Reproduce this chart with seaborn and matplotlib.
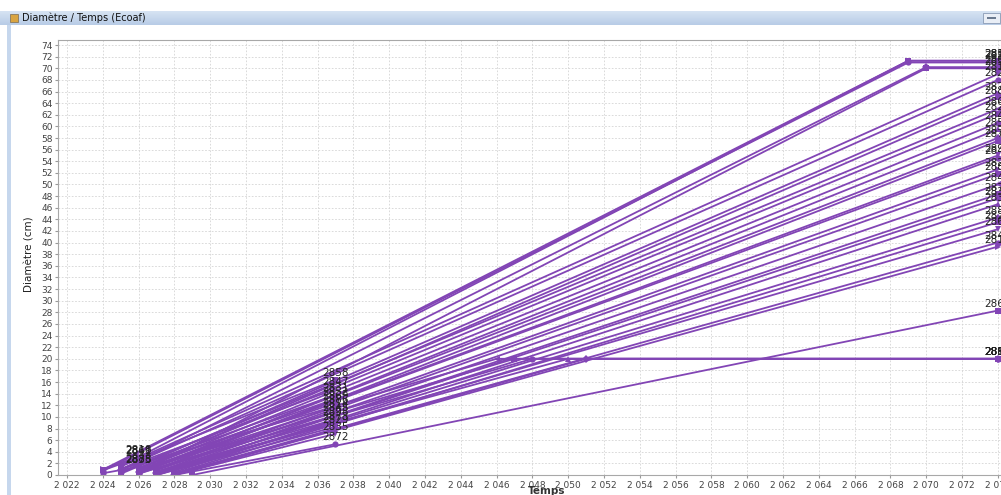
import numpy as np
import pandas as pd
import matplotlib
matplotlib.use("Agg")
import matplotlib.pyplot as plt
from matplotlib.patches import Rectangle
from matplotlib.ticker import MultipleLocator, FuncFormatter
import seaborn as sns

# arbres : identifiant, premier point, dernier point, annee de plafonnement (0 = aucune)
tree_id = [
    # plafond 71 cm
    2859, 2853, 2816, 2896, 2897,
    # jusqu'en 2074
    2815, 2824, 2876, 2883, 2862, 2826, 2848, 2856, 2871, 2877, 2894, 2844,
    2828, 2889, 2841, 2878, 2838, 2837, 2884, 2821, 2867, 2843, 2817, 2865,
    # plafond 20 cm
    2855, 2863, 2880, 2892, 2812,
    # coupes en 2037
    2858, 2847, 2831, 2852, 2869, 2886, 2814, 2845, 2898, 2873, 2829, 2835, 2872,
    # coupes en 2026
    2818, 2849, 2861, 2888, 2833, 2875,
]
first_year = [
    2024, 2024, 2025, 2025, 2026,
    2025, 2025, 2026, 2026, 2025, 2026, 2026, 2027, 2026, 2027, 2027, 2026,
    2027, 2027, 2027, 2028, 2027, 2028, 2028, 2028, 2027, 2028, 2028, 2029,
    2025, 2026, 2026, 2027, 2028,
    2025, 2025, 2025, 2026, 2026, 2026, 2026, 2027, 2027, 2027, 2027, 2028, 2028,
    2024, 2024, 2025, 2025, 2024, 2025,
]
first_diam = [
    0.9, 0.7, 1.5, 0.8, 0.3,
    1.5, 1.0, 1.5, 1.0, 0.5, 1.2, 0.8, 1.5, 0.5, 1.0, 1.5, 0.3,
    0.8, 0.5, 0.3, 1.0, 0.0, 0.5, 0.8, 0.3, 0.0, 0.2, 0.0, 0.0,
    1.0, 0.8, 0.3, 0.5, 0.0,
    1.5, 1.0, 0.5, 1.2, 0.8, 0.5, 0.2, 1.0, 0.6, 0.3, 0.0, 0.0, 0.0,
    1.0, 0.8, 1.5, 0.5, 0.3, 0.2,
]
last_year = [2074] * 34 + [2037] * 13 + [2026] * 6
last_diam = [
    71.3, 71.0, 71.3, 70.2, 70.0,
    69.0, 68.0, 65.7, 65.0, 63.0, 62.2, 60.6, 59.5, 58.0, 57.5, 55.0, 54.6,
    52.6, 51.8, 50.0, 48.3, 47.6, 46.6, 44.3, 43.5, 42.3, 40.0, 39.3, 28.3,
    20.0, 20.0, 20.0, 20.0, 20.0,
    16.4, 14.8, 13.8, 13.1, 12.4, 11.7, 11.0, 10.3, 9.6, 8.9, 8.3, 7.1, 5.3,
    3.2, 3.0, 2.9, 1.6, 1.4, 1.5,
]
cap_year = (
    [2069, 2069, 2069, 2070, 2070]
    + [0] * 24
    + [2046, 2047, 2048, 2050, 2051]
    + [0] * 19
)

purple = "#8245b5"

rows = []
for i, t in enumerate(tree_id):
    rows.append((str(t), first_year[i], first_diam[i]))
    if cap_year[i]:
        rows.append((str(t), cap_year[i], last_diam[i]))
    rows.append((str(t), last_year[i], last_diam[i]))
df = pd.DataFrame(rows, columns=["arbre", "annee", "diametre"])

shapes = ["s", "o", "^", "D", "s", "v", "o", ">", "s", "<"]
markers = [shapes[i % len(shapes)] for i in range(len(tree_id))]

fig = plt.figure(figsize=(10.01, 4.95), dpi=100)
ax = fig.add_axes([58 / 1001, 20 / 495, 945 / 1001, 435 / 495])

sns.lineplot(data=df, x="annee", y="diametre", hue="arbre", style="arbre",
             palette=[purple] * len(tree_id), markers=markers, dashes=False,
             estimator=None, legend=False, linewidth=1.3, markersize=4.5,
             markeredgewidth=0, ax=ax)

for i, t in enumerate(tree_id):
    ax.text(last_year[i], last_diam[i] + 0.3, str(t), ha="center", va="bottom",
            fontsize=7.5, color="#222222")

ax.set_xlim(2021.5, 2074.29)
ax.set_ylim(0, 74.87)
ax.xaxis.set_major_locator(MultipleLocator(2))
ax.yaxis.set_major_locator(MultipleLocator(2))
ax.xaxis.set_major_formatter(FuncFormatter(lambda v, p: f"{int(v):,}".replace(",", " ")))
ax.tick_params(labelsize=6.5, labelcolor="#444444", color="#999999", length=2, pad=2)
ax.grid(True, color="#d4d4d4", linestyle=(0, (2, 2)), linewidth=0.6)
ax.set_axisbelow(True)
for s in ax.spines.values():
    s.set_color("#a8a8a8")
    s.set_linewidth(0.8)
ax.set_xlabel("")
ax.set_ylabel("")

fig.text(547 / 1001, 1 - 491 / 495, "Temps", ha="center", va="center",
         fontsize=7.5, fontweight="bold", color="#333333")
fig.text(29 / 1001, 1 - 254 / 495, "Diamètre (cm)", ha="center", va="center",
         rotation=90, fontsize=7.5, color="#222222")

# barre de titre de la fenetre
bar = fig.add_axes([0, 1 - 25 / 495, 1, 14 / 495])
bar.imshow(np.linspace(0, 1, 20).reshape(-1, 1), aspect="auto",
           cmap=matplotlib.colors.LinearSegmentedColormap.from_list("b", ["#d6e3f3", "#b8cce6"]),
           extent=(0, 1, 0, 1))
bar.set_axis_off()
fig.text(22 / 1001, 1 - 18 / 495, "Diamètre / Temps (Ecoaf)", ha="left", va="center",
         fontsize=7, color="#111111")
fig.patches.append(Rectangle((10 / 1001, 1 - 22 / 495), 8 / 1001, 8 / 495,
                             transform=fig.transFigure, fc="#d9a441", ec="#7a6a50", lw=0.5))
fig.patches.append(Rectangle((983 / 1001, 1 - 23 / 495), 17 / 1001, 10 / 495,
                             transform=fig.transFigure, fc="#e9eef6", ec="#8a9bb5", lw=0.6))
fig.patches.append(Rectangle((987 / 1001, 1 - 19 / 495), 9 / 1001, 1.5 / 495,
                             transform=fig.transFigure, fc="#6b7a90", lw=0))
fig.patches.append(Rectangle((7 / 1001, 0), 4 / 1001, 1 - 25 / 495,
                             transform=fig.transFigure, fc="#c6d7ed", lw=0))

fig.savefig("out.png", dpi=100)
